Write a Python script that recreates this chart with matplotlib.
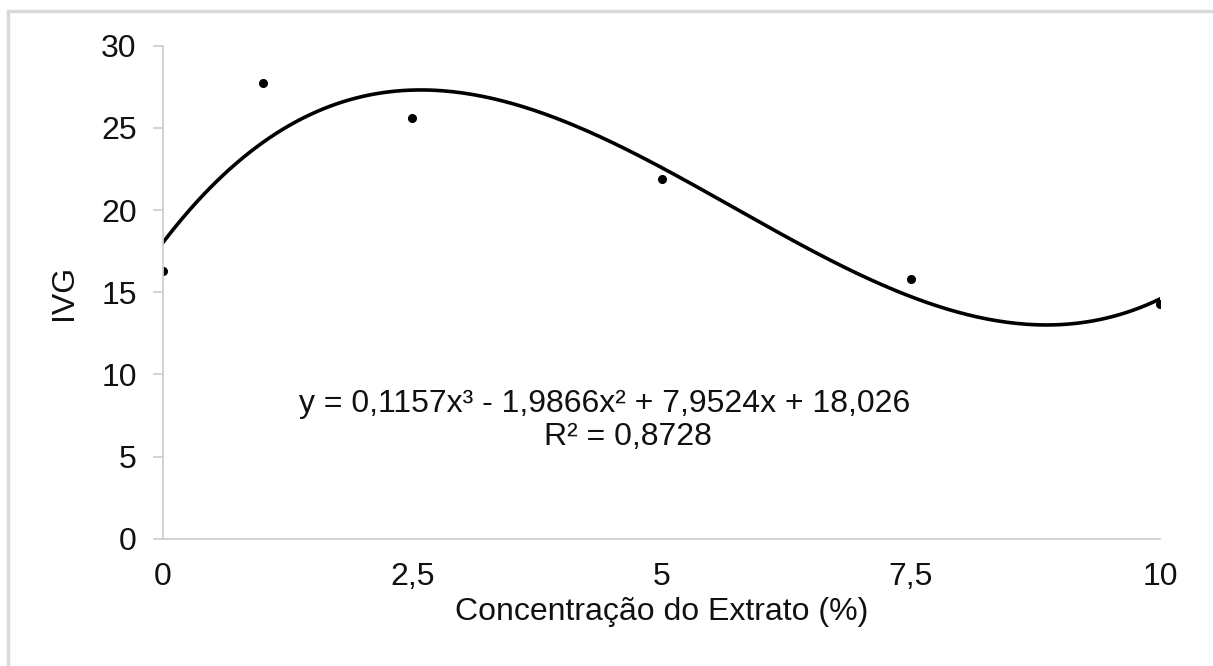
import numpy as np
import matplotlib.pyplot as plt
from matplotlib.patches import Rectangle
from matplotlib.ticker import FuncFormatter

# data
concentracao = [0, 1, 2.5, 5, 7.5, 10]
ivg = [16.3, 27.7, 25.6, 21.9, 15.8, 14.3]

# trendline coefficients as printed on the chart (cubic -> constant)
trend_coefs = [0.1157, -1.9866, 7.9524, 18.026]
r2 = 0.8728

x_ticks = [0, 2.5, 5, 7.5, 10]
y_ticks = [0, 5, 10, 15, 20, 25, 30]

plt.rcParams['font.family'] = ['Liberation Sans', 'DejaVu Sans']
fs = 23

fig = plt.figure(figsize=(12.13, 6.66), dpi=100)
ax = fig.add_axes([0.1344, 0.1911, 0.8219, 0.7403])

# gray outer frame (only top and left edges visible in the original)
fig.patches.append(Rectangle((8 / 1213, -0.1), 1.2, (666 - 11) / 666 + 0.1,
                             transform=fig.transFigure, fill=False,
                             edgecolor='#d9d9d9', linewidth=2.5))

xs = np.linspace(0, 10, 300)
ax.plot(xs, np.polyval(trend_coefs, xs), color='black', linewidth=2.6)
ax.plot(concentracao, ivg, 'o', color='black', markersize=5.5)

ax.set_xlim(0, 10)
ax.set_ylim(0, 30)
ax.set_xticks(x_ticks)
ax.set_yticks(y_ticks)

comma = FuncFormatter(lambda v, p: f"{v:g}".replace('.', ','))
ax.xaxis.set_major_formatter(comma)

for s in ['top', 'right']:
    ax.spines[s].set_visible(False)
for s in ['left', 'bottom']:
    ax.spines[s].set_color('#d0d0d0')
    ax.spines[s].set_linewidth(1.3)

ax.tick_params(axis='y', length=7, width=1.3, color='#d0d0d0', pad=12,
               labelsize=fs, labelcolor='#111111')
ax.tick_params(axis='x', length=0, pad=17, labelsize=fs, labelcolor='#111111')

ax.set_xlabel("Concentração do Extrato (%)", fontsize=fs, labelpad=3, color='#111111')
ax.set_ylabel("IVG", fontsize=fs, labelpad=16, color='#111111')

eq = "y = 0,1157x³ - 1,9866x² + 7,9524x + 18,026"
ax.text(4.43, 8.2, eq, fontsize=fs, ha='center', va='center', color='#111111')
ax.text(4.66, 6.19, f"R² = {r2}".replace('.', ','), fontsize=fs,
        ha='center', va='center', color='#111111')

fig.savefig("out.png", dpi=100)
